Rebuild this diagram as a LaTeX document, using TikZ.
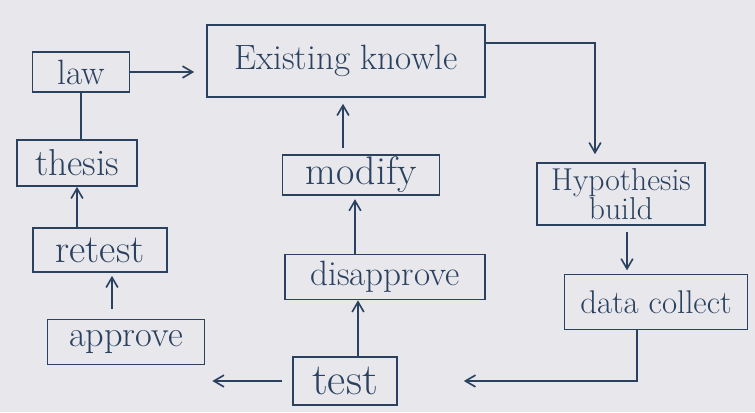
\documentclass[tikz,border=0pt]{standalone}
\usetikzlibrary{arrows.meta, positioning, calc}
\definecolor{ink}{RGB}{42,66,96}
\definecolor{paper}{RGB}{232,231,236}
\tikzset{
	every text node part/.style = {align=center},
	stepbox/.style = {
		draw = ink,
		line width = 1.4pt,
		text = ink,
		inner sep = 0pt,
		font = \fontsize{30}{32}\selectfont
	},
	inkline/.style = {draw = ink, line width = 1.4pt},
	inkarrow/.style = {inkline, -{Straight Barb[length=3mm, width=3.5mm]}}
}

\begin{document}
\begin{tikzpicture}[x=0.03cm, y=-0.03cm]
	\fill [paper] (0,0) rectangle (755,412);
	\useasboundingbox (0,0) rectangle (755,412);
	
	% left column
	\node [stepbox, minimum width=2.91cm, minimum height=1.2cm] (law) at (81,72) {law};
	\node [stepbox, minimum width=3.6cm, minimum height=1.38cm, font=\fontsize{32}{34}\selectfont] (thesis) at (77,163) {thesis};
	\node [stepbox, minimum width=4.02cm, minimum height=1.32cm, font=\fontsize{34}{36}\selectfont] (retest) at (100,250) {retest};
	\node [stepbox, minimum width=4.71cm, minimum height=1.35cm, font=\fontsize{31}{33}\selectfont] (approve) at (126,342) {approve};
	
	% middle column
	\node [stepbox, minimum width=8.34cm, minimum height=2.16cm] (exist) at (346,61) {Existing knowle};
	\node [stepbox, minimum width=4.71cm, minimum height=1.2cm, font=\fontsize{34}{36}\selectfont] (modify) at (361,175) {modify};
	\node [stepbox, minimum width=6.0cm, minimum height=1.35cm] (disapprove) at (385,277) {disapprove};
	\node [stepbox, minimum width=3.12cm, minimum height=1.44cm, font=\fontsize{38}{40}\selectfont] (test) at (345,381) {test};
	
	% right column
	\node [stepbox, minimum width=5.04cm, minimum height=1.86cm, font=\fontsize{27}{24}\selectfont] (hyp) at (621,194) {Hypothesis\\build};
	\node [stepbox, minimum width=5.49cm, minimum height=1.65cm, font=\fontsize{28}{30}\selectfont] (data) at (656,302) {data collect};
	
	% connectors
	\draw [inkarrow, shorten >=0.36cm] (law.east) -- (law.east -| exist.west);
	\draw [inkline] (law.south) -- (law.south |- thesis.north);
	\draw [inkarrow] (retest.north -| thesis.south) -- (thesis.south);
	\draw [inkarrow, shorten <=0.3cm, shorten >=0.09cm] ($(approve.north)+(-14,0)$) -- ($(retest.south)+(12,0)$);
	\draw [inkarrow, shorten <=0.3cm, shorten >=0.21cm] (test.west) -- (test.west -| approve.east);
	\draw [inkarrow] ($(test.north)+(13,0)$) -- ($(disapprove.south)+(-27,0)$);
	\draw [inkarrow, shorten >=0.1cm] ($(disapprove.north)+(-30,0)$) -- ($(modify.south)+(-6,0)$);
	\draw [inkarrow, shorten <=0.2cm, shorten >=0.18cm] ($(modify.north)+(-18,0)$) -- ($(exist.south)+(-3,0)$);
	\draw [inkarrow, shorten >=0.24cm] ($(exist.east)+(0,-18)$) -| ($(hyp.north)+(-26,0)$);
	\draw [inkarrow, shorten <=0.2cm, shorten >=0.1cm] ($(hyp.south)+(6,0)$) -- ($(data.north)+(-29,0)$);
	\draw [inkarrow, shorten >=1.98cm] ($(data.south)+(-19,0)$) |- (test.east);
\end{tikzpicture}
\end{document}
